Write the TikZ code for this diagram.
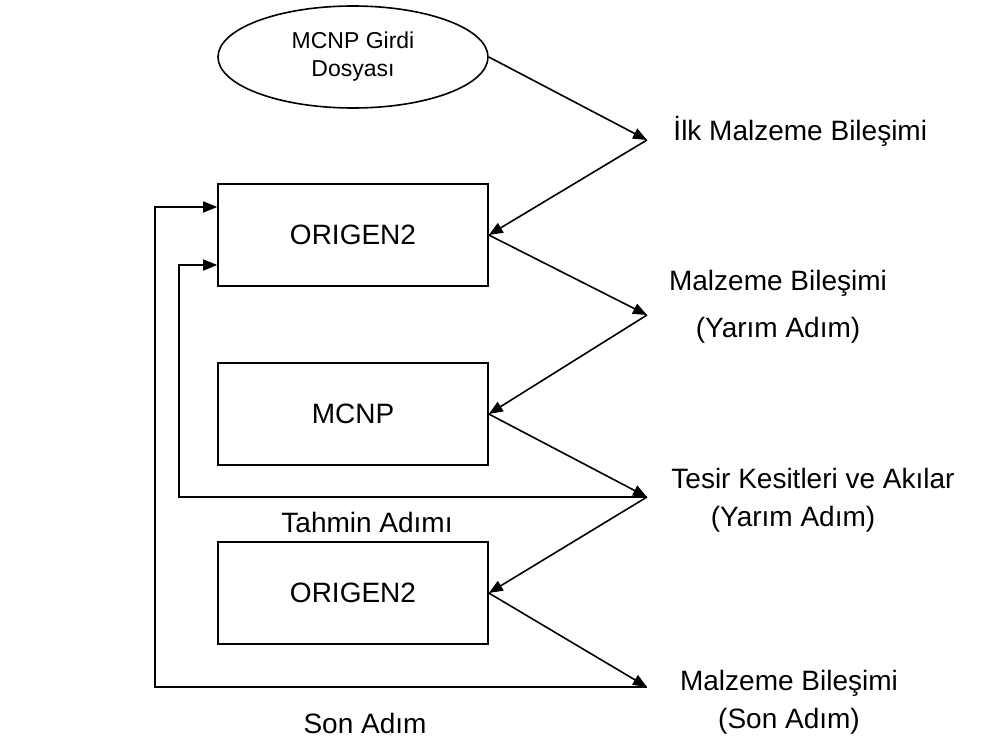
\documentclass[tikz,border=0pt]{standalone}
\usepackage{fontspec}
\setmainfont{Liberation Sans}
\usetikzlibrary{shapes,arrows.meta,positioning,calc}
\tikzset{%
    input/.style={%
        ellipse, draw, minimum width=135pt, minimum height=51pt, inner sep=0pt, align=center, font=\fontsize{11.5}{14}\selectfont
    },
    code/.style={%
        rectangle, draw, minimum width=135pt, minimum height=51pt, text centered, font=\fontsize{14}{17}\selectfont
    },
    result/.style={%
        align=center, font=\fontsize{14}{19}\selectfont
    },
    steplabel/.style={%
        font=\fontsize{14}{17}\selectfont
    },
    flow/.style={%
        ->
    },
}

\begin{document}
\begin{tikzpicture}[x=0.5pt,y=-0.5pt,line width=0.8pt,>={Triangle[length=7pt,width=5.5pt]}]
      \useasboundingbox (0,0) rectangle (994,744);
      \node[input] (dosya) at (353,57) {MCNP Girdi\\Dosyası};
      \node[code] (origen1) at (353,235) {ORIGEN2};
      \node[code] (mcnp) at (353,414) {MCNP};
      \node[code] (origen2) at (353,593) {ORIGEN2};
      % points on the right
      \coordinate (ilk) at (647,140);
      \coordinate (yarim) at (647,315);
      \coordinate (tesir) at (647,497);
      \coordinate (son) at (647,687);
      \coordinate (outer) at (155,0);
      \coordinate (inner) at (179,0);
      \node[result, anchor=west] (ilktxt) at (666,131) {İlk Malzeme Bileşimi};
      \node[result] (yarimtxt) at (778,307) {Malzeme Bileşimi\\[4.5pt](Yarım Adım)};
      \node[result] (tesirtxt) at (813,500) {Tesir Kesitleri ve Akılar\\(Yarım Adım)\hspace*{20pt}};
      \node[result] (sontxt) at (789,702) {Malzeme Bileşimi\\(Son Adım)};
      \node[steplabel] (tahmin) at (367,522) {Tahmin Adımı};
      \node[steplabel] (sonadim) at (365,723) {Son Adım};
      \draw [flow] (dosya.east) -- (ilk);
      \draw [flow] (ilk) -- (origen1.east);
      \draw [flow] (origen1.east) -- (yarim);
      \draw [flow] (yarim) -- (mcnp.east);
      \draw [flow] (mcnp.east) -- (tesir);
      \draw [flow] (tesir) -- (origen2.east);
      \draw [flow] (origen2.east) -- (son);
      \draw [flow] (tesir) -- (tesir -| inner) |- ([yshift=-15pt]origen1.west);
      \draw [flow] (son) -- (son -| outer) |- ([yshift=14pt]origen1.west);
    \end{tikzpicture}
\end{document}
